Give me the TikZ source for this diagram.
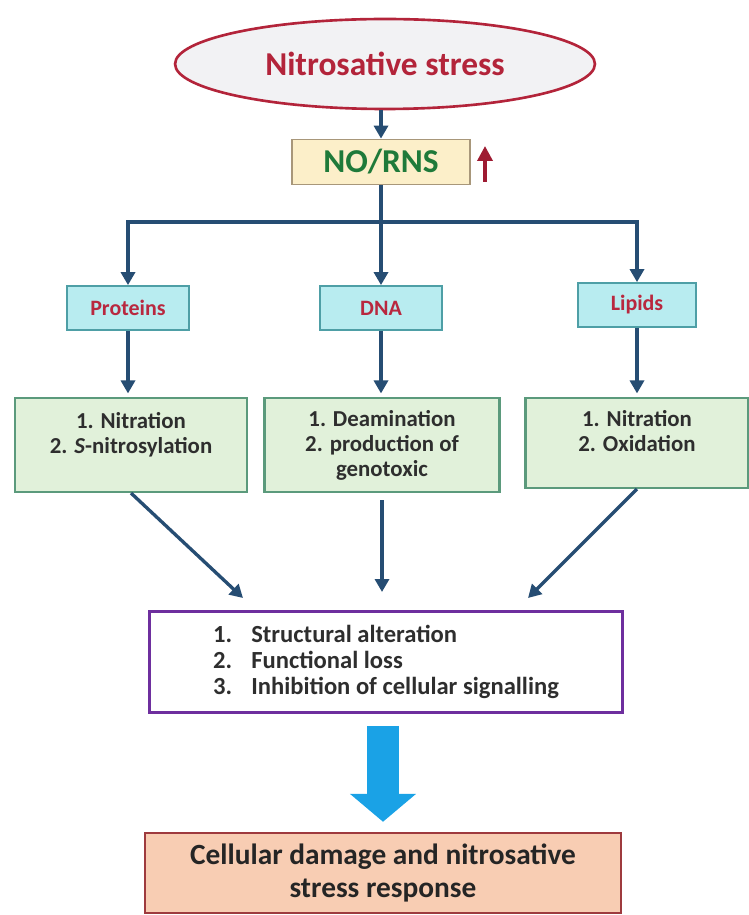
\documentclass[tikz,border=0pt]{standalone}
\usepackage{fontspec}
\setmainfont{Carlito}
\usetikzlibrary{shapes.geometric,arrows.meta,positioning,calc}
\definecolor{stressred}{HTML}{B3243A}
\definecolor{ellfill}{HTML}{F2F2F4}
\definecolor{rnsgreen}{HTML}{1F7A3A}
\definecolor{rnsfill}{HTML}{FCEFC9}
\definecolor{rnsedge}{HTML}{A8977A}
\definecolor{upred}{HTML}{9E1B32}
\definecolor{linkblue}{HTML}{264D73}
\definecolor{molfill}{HTML}{B8ECF0}
\definecolor{moledge}{HTML}{4E9FA6}
\definecolor{moltext}{HTML}{B8283F}
\definecolor{effill}{HTML}{E1F1DA}
\definecolor{efedge}{HTML}{5B9A7C}
\definecolor{lossedge}{HTML}{6E2F9E}
\definecolor{bigblue}{HTML}{1AA2E6}
\definecolor{outfill}{HTML}{F8CDB3}
\definecolor{outedge}{HTML}{9E3A3E}
\definecolor{txtgray}{HTML}{2E2E2E}
\tikzset{
  stress style/.style={ellipse, draw=stressred, line width=1.5pt, fill=ellfill,
    minimum width=8.4cm, minimum height=1.8cm, inner sep=0pt, text=stressred,
    font=\fontsize{19}{22}\selectfont\bfseries},
  rns style/.style={rectangle, draw=rnsedge, line width=1pt, fill=rnsfill,
    minimum width=3.56cm, minimum height=0.9cm, text=rnsgreen,
    font=\fontsize{19}{22}\selectfont\bfseries},
  mol style/.style={rectangle, draw=moledge, line width=1pt, fill=molfill,
    minimum width=2.44cm, minimum height=0.88cm, text=moltext,
    font=\fontsize{12.5}{15}\selectfont\bfseries},
  eff style/.style={rectangle, draw=efedge, line width=1.2pt, fill=effill,
    minimum height=1.88cm, align=center, text=txtgray,
    font=\fontsize{13}{14.2}\selectfont\bfseries},
  loss style/.style={rectangle, draw=lossedge, line width=1.6pt, fill=white,
    minimum width=9.46cm, minimum height=2.02cm, align=left, text=txtgray,
    font=\fontsize{14}{15}\selectfont\bfseries},
  out style/.style={rectangle, draw=outedge, line width=1.4pt, fill=outfill,
    minimum width=9.52cm, minimum height=1.6cm, align=center, text=txtgray!80!black,
    font=\fontsize{16.7}{18.5}\selectfont\bfseries},
  arr style/.style={-{Triangle[length=2.6mm, width=2.8mm]}, line width=1.9pt, draw=linkblue},
  up style/.style={-{Triangle[length=3mm, width=3mm]}, line width=2pt, draw=upred},
  big arr style/.style={-{Triangle[length=15.9pt, width=36.8pt]}, line width=18.1pt,
    draw=bigblue, shorten <=6.8pt, shorten >=5.7pt}
}
\begin{document}
\begin{tikzpicture}[x=0.02cm, y=-0.02cm]
\useasboundingbox (0,0) rectangle (749,915);
\node[stress style] (stress) at (385,64) {Nitrosative stress};
\node[rns style] (rns) at (381,162) {NO/RNS};
\coordinate (up0) at (485,182);
\coordinate (up1) at (485,146);
\node[mol style] (prot) at (128,308) {Proteins};
\node[mol style] (dna) at (381,308) {DNA};
\node[mol style, minimum width=2.36cm] (lip) at (637,305) {Lipids};
\node[eff style, minimum width=4.64cm] (protfx) at (131,445) {1. Nitration\\2. \textit{S}-nitrosylation\\~};
\node[eff style, minimum width=4.7cm] (dnafx) at (382,445) {1. Deamination\\2. production of\\genotoxic};
\node[eff style, minimum width=4.46cm, minimum height=1.8cm] (lipfx) at (637,443) {1. Nitration\\2. Oxidation\\~};
\node[loss style] (loss) at (386,662) {\makebox[1.55em][l]{1.}Structural alteration\\
  \makebox[1.55em][l]{2.}Functional loss\\
  \makebox[1.55em][l]{3.}Inhibition of cellular signalling};
\node[out style] (out) at (383,873) {Cellular damage and nitrosative\\stress response};
\coordinate (split) at (381,222);
\coordinate (inL) at (243,598);
\coordinate (inM) at (382,592);
\coordinate (inR) at (528,598);
\draw[arr style] (rns.north |- stress.south) -- (rns.north);
\draw[up style] (up0) -- (up1);
\draw[line width=1.9pt, draw=linkblue] (rns.south) -- (split);
\draw[arr style] (split) -| (prot.north);
\draw[arr style] (split) -- (dna.north);
\draw[arr style] (split) -| (lip.north);
\draw[arr style, shorten >=2pt] (prot) -- (prot |- protfx.north);
\draw[arr style, shorten >=2pt] (dna) -- (dna |- dnafx.north);
\draw[arr style, shorten >=2pt] (lip) -- (lip |- lipfx.north);
\draw[arr style] (protfx.south) -- (inL);
\draw[arr style, shorten <=4pt] (dnafx.south) -- (inM);
\draw[arr style] (lipfx.south) -- (inR);
\draw[big arr style] (out.north |- loss.south) -- (out.north);
\end{tikzpicture}
\end{document}
